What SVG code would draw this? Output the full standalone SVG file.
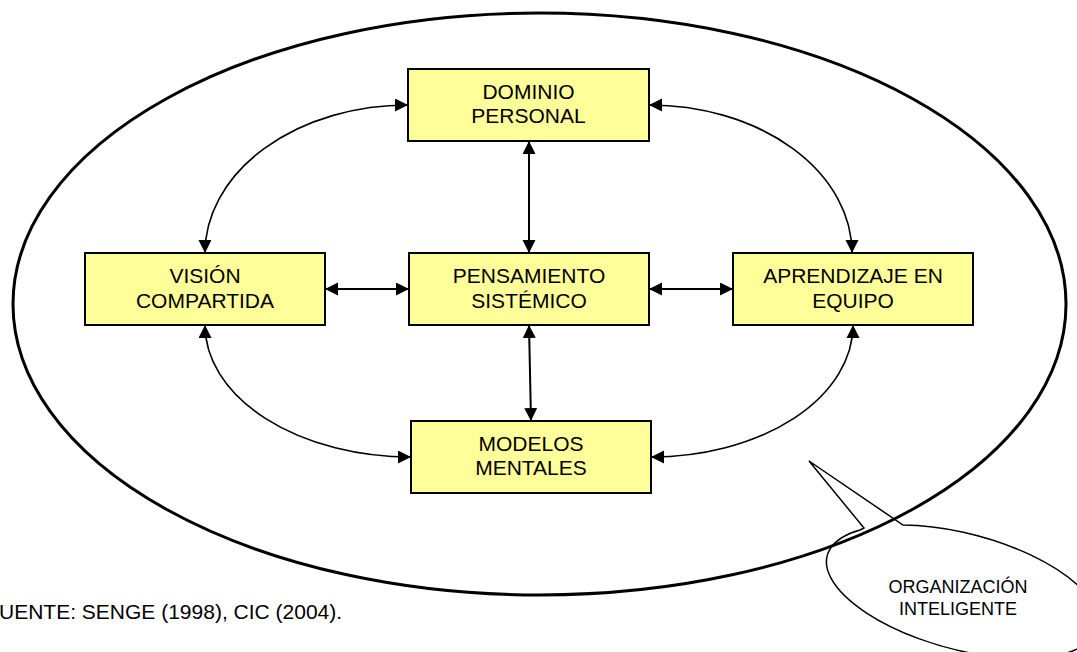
<svg xmlns="http://www.w3.org/2000/svg" width="1077" height="652" viewBox="0 0 1077 652">
  <style>
    .box { fill: #FFFF99; stroke: #000; stroke-width: 2; }
    .lbl { font-family: "Liberation Sans", Arial, sans-serif; font-size: 21px; fill: #000; text-anchor: middle; }
    .note { font-family: "Liberation Sans", Arial, sans-serif; font-size: 18px; fill: #000; text-anchor: middle; }
    .link { fill: none; stroke: #000; stroke-width: 2; marker-start: url(#arrow); marker-end: url(#arrow); }
    .curve { fill: none; stroke: #000; stroke-width: 1.6; marker-start: url(#arrow); marker-end: url(#arrow); }
  </style>
  <defs>
    <marker id="arrow" markerUnits="userSpaceOnUse" markerWidth="14" markerHeight="14" refX="13" refY="6.5" orient="auto-start-reverse">
      <path d="M0,0 L13,6.5 L0,13 z" fill="#000"/>
    </marker>
  </defs>
  <rect width="1077" height="652" fill="#fff"/>

  <!-- outer boundary of the organisation -->
  <ellipse id="organizacion" cx="539.5" cy="304" rx="526.5" ry="291" fill="none" stroke="#000" stroke-width="3"/>

  <g id="connectors">
    <path class="link" d="M529 141 L529 253"/>
    <path class="link" d="M529 325 L531 421"/>
    <path class="link" d="M325 289 L409 289"/>
    <path class="link" d="M649 289 L733 289"/>
    <path class="curve" d="M408 105 A203 148 0 0 0 205 253"/>
    <path class="curve" d="M649 105 A203 148 0 0 1 852 253"/>
    <path class="curve" d="M205 325 A206 132 0 0 0 411 457"/>
    <path class="curve" d="M651 457 A202 132 0 0 0 853 325"/>
  </g>

  <g id="dominio-personal">
    <rect class="box" x="408" y="69" width="241" height="72"/>
    <text class="lbl" x="528.5" y="99">DOMINIO</text>
    <text class="lbl" x="528.5" y="123">PERSONAL</text>
  </g>
  <g id="vision-compartida">
    <rect class="box" x="85" y="253" width="240" height="72"/>
    <text class="lbl" x="205" y="283">VISIÓN</text>
    <text class="lbl" x="205" y="308">COMPARTIDA</text>
  </g>
  <g id="pensamiento-sistemico">
    <rect class="box" x="409" y="253" width="240" height="72"/>
    <text class="lbl" x="529" y="283">PENSAMIENTO</text>
    <text class="lbl" x="529" y="308">SISTÉMICO</text>
  </g>
  <g id="aprendizaje-equipo">
    <rect class="box" x="733" y="253" width="240" height="72"/>
    <text class="lbl" x="853" y="283">APRENDIZAJE EN</text>
    <text class="lbl" x="853" y="308">EQUIPO</text>
  </g>
  <g id="modelos-mentales">
    <rect class="box" x="411" y="421" width="240" height="72"/>
    <text class="lbl" x="531" y="451">MODELOS</text>
    <text class="lbl" x="531" y="475">MENTALES</text>
  </g>

  <!-- callout naming the outer ellipse -->
  <g id="callout">
    <path d="M860 530 L864 528 L809 461 L903 525 A140 58 15 1 1 860 530 Z" fill="none" stroke="#000" stroke-width="1.5"/>
    <text class="note" x="958" y="593">ORGANIZACIÓN</text>
    <text class="note" x="958" y="615">INTELIGENTE</text>
  </g>

  <text id="fuente" x="-1" y="619" font-family="Liberation Sans, Arial, sans-serif" font-size="21">UENTE: SENGE (1998), CIC (2004).</text>
</svg>
